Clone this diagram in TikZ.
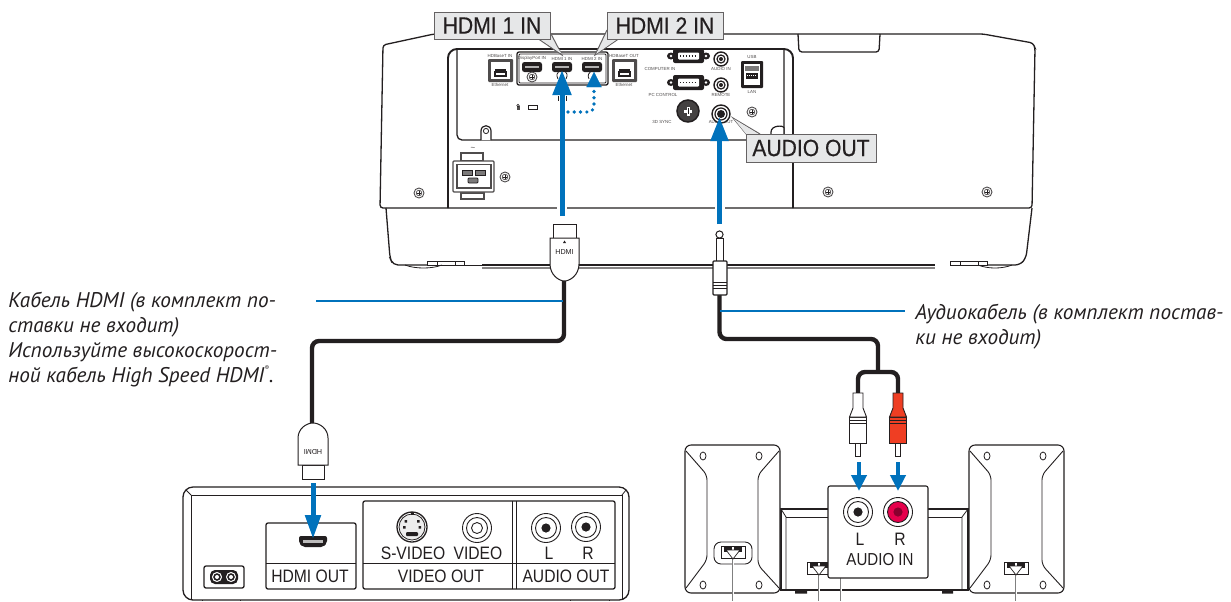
\documentclass[tikz,border=0pt]{standalone}
\usepackage{fontspec}
\setmainfont{Liberation Sans}
\newfontfamily\notefont[ItalicFont=PT Sans Italic]{PT Sans}
\newfontfamily\callfont[FakeStretch=0.9,FakeBold=0.4]{Liberation Sans}
\newfontfamily\panelfont[FakeStretch=0.87]{Liberation Sans}
\usetikzlibrary{arrows.meta}
\definecolor{nblue}{HTML}{0072BC}
\definecolor{ink}{HTML}{231F20}
\definecolor{calloutfill}{HTML}{E6E7E8}
\definecolor{rcared}{HTML}{EF3E23}
\definecolor{pink}{HTML}{E6004C}
\def\PX{*0.75pt}
\newcommand{\pjScrew}[2]{%
  \draw[line width=.9\PX,fill=white,draw=ink!80] (#1,#2) circle (5);
  \draw[line width=.7\PX,draw=ink!80] (#1,#2) circle (2.8);
  \draw[line width=.5\PX,draw=ink] (#1-1.6,#2)--(#1+1.6,#2) (#1,#2-1.6)--(#1,#2+1.6);}
\newcommand{\pjEther}[2]{%
  \fill[rounded corners=1\PX,ink!80] (#1,#2) rectangle ++(25,23);
  \fill[white] (#1+3,#2+3) rectangle ++(19,17);
  \fill[ink] (#1+6,#2+12) rectangle ++(13,6);
  \fill[white] (#1+8,#2+14) rectangle ++(9,2);
  \fill[ink] (#1+7,#2+10) rectangle ++(11,2);}
\newcommand{\pjDsub}[4]{% x y w h
  \fill[ink] (#1-2,#2+#4/2) ellipse (4 and 3.5);
  \fill[ink] (#1+#3+2,#2+#4/2) ellipse (4 and 3.5);
  \fill[ink,rounded corners=2\PX] (#1,#2) rectangle ++(#3,#4);
  \fill[white,rounded corners=1\PX] (#1+5,#2+3.5) rectangle ++(#3-10,#4-7);
  \draw[ink,line width=1.6\PX,dash pattern=on 1.1pt off 1.1pt] (#1+7,#2+#4/2)--(#1+#3-7,#2+#4/2);
  \fill[white] (#1-2,#2+#4/2) circle (1.4);
  \fill[white] (#1+#3+2,#2+#4/2) circle (1.4);}
\newcommand{\pjPort}[2]{%
  \fill[ink,rounded corners=2.5\PX] (#1-10,#2-5) rectangle (#1+10,#2+5);
  \fill[white!65!ink] (#1-7,#2-1.5) rectangle (#1+7,#2+.5);}
\newcommand{\pjRound}[3]{%
  \draw[ink,line width=1.4\PX,fill=white] (#1,#2) circle (#3);
  \draw[ink,line width=1.2\PX] (#1,#2) circle (#3-3);
  \fill[ink] (#1,#2) circle (#3-5);}
\newcommand{\pjRing}[4]{% x y centrefill dotfill
  \draw[ink,line width=.9\PX,fill=white] (#1,#2) circle (14.5);
  \draw[ink,line width=.9\PX,fill=#3] (#1,#2) circle (10.5);
  \fill[#4] (#1,#2) circle (4.6);}
\newcommand{\pjSpeaker}[1]{% left x
  \draw[ink,line width=1.1\PX,fill=white,rounded corners=6\PX] (#1,445) rectangle ++(95,148);
  \draw[ink,line width=.9\PX,rounded corners=5\PX] (#1+1,451) -- (#1+22,475) -- (#1+22,560) -- (#1+1,588);
  \draw[ink,line width=.9\PX,rounded corners=5\PX] (#1+94,451) -- (#1+73,475) -- (#1+73,565) -- (#1+94,588);
  \draw[ink,line width=.8\PX] (#1+18,456) ellipse (3 and 4) (#1+74,456) ellipse (3 and 4)
     (#1+18,585) ellipse (3 and 4) (#1+74,585) ellipse (3 and 4);}
\newcommand{\pjTerm}[2]{% centre x, top y
  \draw[gray,line width=1.5\PX] (#1,#2+8) -- (#1,601);
  \draw[white,line width=.5\PX] (#1,#2+8) -- (#1,601);
  \draw[ink,line width=.8\PX,fill=white] (#1-12,#2) rectangle ++(24,12);
  \fill[ink] (#1-9,#2+1) rectangle ++(8,5);
  \fill[ink] (#1+1,#2+1) rectangle ++(8,5);
  \draw[ink,line width=.7\PX,fill=white] (#1-7,#2+4) -- (#1+7,#2+4) -- (#1,#2+13) -- cycle;}
\newcommand{\pjRca}[3]{% x, collar fill, body fill
  \draw[ink,line width=.8\PX,fill=white] (#1-2.5,443) rectangle (#1+2.5,456) ;
  \draw[ink,line width=.9\PX,fill=#3] (#1-8.5,417) rectangle (#1+8.5,443);
  \draw[ink,line width=.9\PX,fill=#2] (#1-5,393) -- (#1+5,393) -- (#1+5,408) -- (#1+8.5,417) -- (#1-8.5,417) -- (#1-5,408) -- cycle;
  \draw[ink,line width=.7\PX] (#1-8.5,420)--(#1+8.5,420) (#1-8.5,423)--(#1+8.5,423);}
\tikzset{
  thinline/.style={draw=ink,line width=.8\PX},
  midline/.style={draw=ink,line width=1.3\PX},
  heavyline/.style={draw=ink,line width=1.9\PX},
  callout/.style={draw=ink!70,line width=1\PX,fill=calloutfill},
  calltext/.style={inner sep=0pt,text=ink,font=\callfont\fontsize{17.6pt}{18pt}\selectfont},
  tiny label/.style={inner sep=0pt,text=ink!80,font=\fontsize{3.3pt}{4pt}\selectfont},
  panel text/.style={inner sep=0pt,text=ink,font=\panelfont\fontsize{13.5pt}{14pt}\selectfont},
  note/.style={inner sep=0pt,anchor=base west,text=ink,font=\notefont\itshape\fontsize{15.9pt}{17pt}\selectfont},
  cable/.style={draw=ink,line width=4.4\PX,rounded corners=7\PX},
  leader/.style={draw=nblue,line width=1.7\PX},
  bigarrow/.style={draw=nblue,line width=5\PX,-{Triangle[length=18.75pt,width=13.5pt,fill=nblue]}},
  smallarrow/.style={draw=nblue,line width=4.6\PX,-{Triangle[length=12pt,width=11.25pt,fill=nblue]}},
}
\begin{document}
\begin{tikzpicture}[x=0.75pt,y=-0.75pt]
\useasboundingbox (0,0) rectangle (1231,601);
\fill[white] (0,0) rectangle (1231,601);

% ---------- projector body
\draw[midline,rounded corners=3\PX] (380,208) -- (383,45) -- (434,34) -- (983,34) -- (1033,43) -- (1035,48) -- (1032,208) -- cycle;
\draw[midline,rounded corners=5\PX] (386,208) -- (390,258) -- (393,265) -- (427,265);
\draw[midline,rounded corners=5\PX] (1032,208) -- (1026,258) -- (1020,265) -- (987,265);
\draw[thinline,fill=white] (427,261) rectangle (464,265);
\draw[thinline] (437,261)--(437,265) (455,261)--(455,265);
\draw[thinline,fill=white] (950,261) rectangle (987,265);
\draw[thinline] (960,261)--(960,265) (978,261)--(978,265);
\draw[thinline] (405,265) .. controls (415,269) and (432,269) .. (442,265);
\draw[thinline] (978,265) .. controls (988,269) and (1002,269) .. (1012,265);
\draw[thinline] (464,265) -- (482,265);
\draw[draw=ink,line width=2\PX] (482,265) -- (935,265);
\draw[draw=ink!55,line width=1.1\PX] (482,268) -- (935,268);
% tab on top
\draw[midline,rounded corners=3\PX] (798,34) -- (799,52) -- (879,52) -- (880,34);
% panel
\draw[heavyline,rounded corners=9\PX] (448,208) -- (448,49) -- (793,49) -- (793,208);
\draw[midline,rounded corners=5\PX] (457,49) -- (457,140) -- (784,140) -- (784,49);
\draw[thinline,fill=white,line width=1.2\PX] (481,140) -- (481,131) .. controls (481,124) and (491,124) .. (491,131) -- (491,140);
\draw[thinline] (486,131) circle (2.6);
\draw[thinline,fill=white,line width=1.2\PX] (771,140) -- (771,132) .. controls (771,125) and (784,125) .. (784,128) -- (784,140);

% ports
\draw[midline,fill=white,rounded corners=2\PX] (517,52) rectangle (608,85);
\draw[thinline,rounded corners=1\PX] (519,54) rectangle (606,83);
\pjEther{488}{59}
\node[tiny label] (t1) at (500,56) {HDBaseT IN};
\node[tiny label] (t2) at (500,85) {Ethernet};
\pjEther{612}{59}
\node[tiny label] (t3) at (624,56) {HDBaseT OUT};
\node[tiny label] (t4) at (624,85) {Ethernet};
\node[tiny label] (t5) at (532,58.5) {DisplayPort IN};
\node[tiny label] (t6) at (562,58.5) {HDMI 1 IN};
\node[tiny label] (t7) at (592,58.5) {HDMI 2 IN};
\pjPort{532}{67}\pjPort{562}{67}\pjPort{592}{67}
\pjScrew{532}{77}
\draw[ink,line width=.8\PX] (558,79) .. controls (556,75) and (557,73) .. (559,71)
  (566,79) .. controls (568,75) and (567,73) .. (565,71)
  (589,79) .. controls (587,75) and (589,73) .. (591,71);
\draw[ink,line width=.8\PX] (558,96) -- (558,101) (566,96) -- (566,101);
\pjDsub{673}{49}{31}{14}
\pjDsub{673}{75}{31}{15}
\node[tiny label] (t8) at (660,69) {COMPUTER IN};
\node[tiny label] (t9) at (663,95) {PC CONTROL};
\pjRound{721}{59}{7}
\pjRound{721}{85}{7}
\node[tiny label] (t10) at (721,69) {AUDIO IN};
\node[tiny label] (t11) at (721,95) {REMOTE};
\node[tiny label] (t12) at (662,122) {3D SYNC};
\node[tiny label] (t13) at (721,122) {AUDIO OUT};
\draw[ink,line width=1.5\PX,fill=ink!85] (688,111) circle (11);
\fill[white] (684,109.5) rectangle (692,112.5);
\fill[white] (686.5,106.5) rectangle (689.5,115.5);
\fill[ink] (687.5,108) rectangle (688.5,114);
\pjRound{721}{114}{9}
\pjScrew{752}{112}
\node[tiny label] (t14) at (752,57) {USB};
\node[tiny label] (t15) at (752,92) {LAN};
\fill[ink,rounded corners=1\PX] (741,61) rectangle (763,88);
\fill[white] (744,64) rectangle (760,85);
\fill[ink!60] (745,66) rectangle (759,71);
\fill[ink] (746,73) rectangle (758,79);
\draw[white,line width=.7\PX,dash pattern=on .75pt off .75pt] (747,75) -- (757,75);
% lock
\fill[ink!80] (516.5,106) rectangle (519.5,110);
\draw[ink,line width=.6\PX] (518,105.5) circle (1.2);
\draw[ink,line width=1\PX] (528,105.5) rectangle (537,109.5);

% AC inlet
\node[tiny label] (t16) at (473,149) {\fontsize{6pt}{6pt}\selectfont \char`\~};
\draw[ink!80,line width=1.1\PX,fill=white] (461,153) rectangle (483,161);
\draw[ink!80,line width=1.1\PX,fill=white] (461,193) rectangle (484,199);
\draw[ink!80,line width=1.2\PX,fill=white,rounded corners=1\PX] (453,161) rectangle (494,192);
\draw[ink!80,line width=1.2\PX] (457,164.5) rectangle (491,188);
\draw[ink,line width=.8\PX,fill=ink!60] (462,170) rectangle (472,175);
\draw[ink,line width=.8\PX,fill=ink!60] (475,170) rectangle (485,175);
\draw[ink,line width=.8\PX,fill=ink!60,rounded corners=1\PX] (468,178) rectangle (478,183);
\pjScrew{505}{177}
\pjScrew{419}{193}
\pjScrew{828}{192}
\pjScrew{987}{192}

% ---------- callouts
\draw[callout] (537,38) -- (562,55) -- (550,32);
\fill[calloutfill] (537,37) -- (562,54) -- (549,37) -- cycle;
\draw[callout] (607,30) -- (595,55) -- (620,38);
\fill[calloutfill] (608,37) -- (596,54) -- (620,37) -- cycle;
\draw[callout] (747,135) -- (733,118) -- (760,134);
\fill[calloutfill] (747,135) -- (734,119) -- (760,135) -- cycle;
\node[callout,calltext,minimum width=116\PX,minimum height=27\PX,outer sep=0pt] (hdmi1) at (492,25.5) {HDMI 1 IN};
\node[callout,calltext,minimum width=116\PX,minimum height=27\PX,outer sep=0pt] (hdmi2) at (665,25.5) {HDMI 2 IN};
\node[callout,calltext,minimum width=130\PX,minimum height=28\PX,outer sep=0pt] (audioout) at (811,148) {AUDIO OUT};

% ---------- arrows into the projector
\coordinate (h1a) at (562,216);
\coordinate (h1b) at (562,70);
\coordinate (a1a) at (719.5,224);
\coordinate (a1b) at (719.5,117);
\draw[white,line width=10\PX] (562,200) -- (562,215);
\draw[white,line width=10\PX] (719.5,200) -- (719.5,215);
\draw[bigarrow] (h1a) -- (h1b);
\draw[bigarrow,-{Triangle[length=18pt,width=12.75pt,fill=nblue]}] (a1a) -- (a1b);
\coordinate (d0) at (568,112);
\coordinate (d1) at (594,112);
\coordinate (d2) at (594,72);
\draw[draw=nblue,line width=3.6\PX,line cap=round,dash pattern=on 0pt off 4.7pt,rounded corners=6\PX] (d0) -- (d1) -- (594,88);
\draw[draw=nblue,line width=.1\PX,fill=nblue] (d2) -- (601.5,87) -- (586.5,87) -- cycle;

% ---------- HDMI plug (top)
\coordinate (hp) at (564,281);
\coordinate (hc1) at (564,341);
\coordinate (hc2) at (312,341);
\coordinate (hp2) at (312,423);
\draw[cable] (hp) -- (hc1) -- (hc2) -- (hp2);
\draw[leader] (316,301) -- (563,301);
\draw[thinline,fill=white] (553,224.5) rectangle (576,238);
\draw[thinline,fill=white,line width=1\PX] (550,238) -- (579,238) -- (579,264) .. controls (579,275) and (570,281) .. (564.5,281) .. controls (559,281) and (550,275) .. (550,264) -- cycle;
\fill[ink] (564.5,240.5) -- (566,243) -- (563,243) -- cycle;
\node[inner sep=0pt,text=ink,font=\fontsize{5.4pt}{6pt}\selectfont] (plugtop) at (564.5,252.5) {HDMI};

% ---------- HDMI plug (bottom)
\draw[thinline,fill=white] (302,465) rectangle (324,479);
\draw[thinline,fill=white,line width=1\PX] (298,465) -- (328,465) -- (328,438) .. controls (328,429) and (320,423) .. (313,423) .. controls (306,423) and (298,429) .. (298,438) -- cycle;
\node[inner sep=0pt,text=ink,font=\fontsize{5.4pt}{6pt}\selectfont,rotate=180] (plugbottom) at (313,452) {HDMI};

% ---------- source device
\draw[midline,fill=white,rounded corners=10\PX] (183,487) rectangle (629,600);
\draw[thinline] (191,600) -- (191,495) -- (622,495) -- (622,600);
\draw[thinline] (186,490) -- (191,495) (626,490) -- (622,495);
\draw[thinline] (202,600) -- (202,601) (240,600) -- (240,601) (570,600) -- (570,601) (609,600) -- (609,601);
\draw[midline,rounded corners=2\PX] (266,523) rectangle (356,589);
\draw[thinline] (266,563) -- (356,563);
\fill[ink,rounded corners=2\PX] (299,536) -- (327,536) -- (327,543) -- (323,547) -- (303,547) -- (299,543) -- cycle;
\fill[white!70!ink] (303,540) rectangle (323,543);
\node[panel text] (hdmiout) at (310,576) {HDMI OUT};
\coordinate (h2a) at (313,483);
\coordinate (h2b) at (313,539);
\draw[bigarrow,-{Triangle[length=18pt,width=11.25pt,fill=nblue]}] (h2a) -- (h2b);
\draw[midline,rounded corners=2\PX] (363,501) rectangle (615,589);
\draw[thinline] (363,563) -- (615,563);
\draw[thinline] (512,501) -- (512,589) (516,501) -- (516,589);
\draw[ink,line width=1.3\PX,fill=white] (412,527) circle (15);
\draw[ink,line width=.8\PX,fill=ink!8] (412,527) circle (13);
\fill[ink,rounded corners=1\PX] (406,532) rectangle (418,536);
\fill[ink] (403,526) rectangle ++(2.5,2.5) (418.5,526) rectangle ++(2.5,2.5) (404.5,520) rectangle ++(2.5,2.5) (417,520) rectangle ++(2.5,2.5);
\fill[ink] (411,512) rectangle ++(2.5,2.5);
\draw[ink,line width=.9\PX] (477,528) circle (14.5) (477,528) circle (10.5) (477,528) circle (5.5);
\pjRing{546}{528}{white}{ink}
\pjRing{586}{527}{white}{ink}
\node[panel text] (svideo) at (413,553) {S-VIDEO};
\node[panel text] (video) at (478,553) {VIDEO};
\node[panel text] (dl) at (549,553) {L};
\node[panel text] (dr) at (588,553) {R};
\node[panel text] (videoout) at (441,576) {VIDEO OUT};
\node[panel text] (audout2) at (566,576) {AUDIO OUT};
\draw[midline,rounded corners=2\PX] (204,566) rectangle (244,588);
\fill[ink,rounded corners=5\PX] (210,570) rectangle (238,584);
\draw[white,line width=1\PX,fill=ink] (217,577) circle (4.5) (231,577) circle (4.5);
\fill[white] (217,577) circle (2) (231,577) circle (2);

% ---------- audio plug and cable
\coordinate (ap) at (719.5,295);
\coordinate (ac1) at (719.5,339);
\coordinate (ac2) at (878,339);
\coordinate (ac3) at (878,372);
\coordinate (rl) at (858,393);
\coordinate (rr) at (898,393);
\draw[cable] (ap) -- (ac1) -- (ac2) -- (ac3);
\draw[cable] (rl) -- (858,372) -- (898,372) -- (rr);
\draw[leader] (720,311) -- (905,311);
\draw[thinline,fill=white,line width=1\PX] (716,238) rectangle (723,261);
\draw[thinline,fill=white,line width=1\PX] (719.5,234.5) circle (3.6);
\fill[ink] (716,237.5) rectangle (723,239);
\draw[thinline,fill=white,line width=1.1\PX,rounded corners=1\PX] (713,261) rectangle (727,295);
\draw[ink,line width=.8\PX] (713,282) -- (727,282) (713,285) -- (727,285) (713,288) -- (727,288);

% ---------- speakers and amplifier
\draw[midline,fill=white] (781,509) -- (968,509) -- (968,590) -- (781,590) -- cycle;
\draw[thinline] (786,517) -- (962,517);
\draw[thinline] (781,509) -- (786,517) -- (786,590) (968,509) -- (962,517) -- (962,590);
\fill[ink] (795,590) rectangle (807,593.5) (942,590) rectangle (953,593.5);
\pjTerm{819}{562}
\draw[gray,line width=1.5\PX] (841,575) -- (841,601);
\draw[white,line width=.5\PX] (841,575) -- (841,601);
\pjSpeaker{685}
\pjSpeaker{969}
\draw[ink,line width=.9\PX,fill=white,rounded corners=7\PX] (714,542) rectangle (752,564);
\pjTerm{733}{546}
\pjTerm{1016}{562}
\draw[ink,line width=1.1\PX,fill=white,rounded corners=2\PX] (828,486) rectangle (928,578);
\pjRing{858}{512}{white}{ink}
\pjRing{898}{512}{pink}{pink!60!black}
\node[panel text] (al) at (860,539) {L};
\node[panel text] (ar) at (900,539) {R};
\node[panel text,font=\panelfont\fontsize{13pt}{14pt}\selectfont] (audioin) at (880,560) {AUDIO IN};
\pjRca{858}{white}{white}
\pjRca{898}{rcared}{rcared}
\coordinate (la) at (859,462);
\coordinate (lb) at (859,491);
\coordinate (ra) at (898,462);
\coordinate (rb) at (898,491);
\draw[smallarrow] (la) -- (lb);
\draw[smallarrow] (ra) -- (rb);

% ---------- notes
\node[note] (n1) at (8,307) {Кабель HDMI (в комплект по-};
\node[note] (n2) at (8,332) {ставки не входит)};
\node[note] (n3) at (8,357) {Используйте высокоскорост-};
\node[note] (n4) at (8,382) {ной кабель High Speed HDMI\raisebox{.55em}{\fontsize{5pt}{5pt}\selectfont ®}.};
\node[note] (n5) at (915,319) {Аудиокабель (в комплект постав-};
\node[note] (n6) at (915,344) {ки не входит)};
\end{tikzpicture}
\end{document}
